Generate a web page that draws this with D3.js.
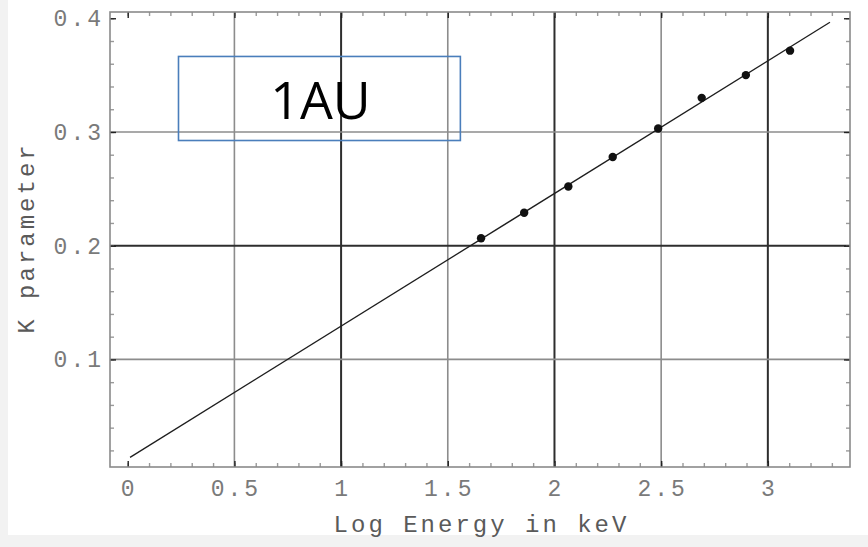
<!DOCTYPE html>
<html>
<head>
<meta charset="utf-8">
<script src="https://cdn.jsdelivr.net/npm/d3@7"></script>
<style>
  html, body { margin: 0; padding: 0; background: #f2f2f2; }
  svg { display: block; }
  .tickLabel { font-family: "Liberation Mono", monospace; font-size: 23px; fill: #7a7a7a; letter-spacing: 3px; }
  .axisTitle { font-family: "Liberation Mono", monospace; font-size: 24px; fill: #5a5a5a; letter-spacing: 3px; }
</style>
</head>
<body>
<div id="chart"></div>
<script>
// data
var energy = [1.656, 1.858, 2.065, 2.273, 2.486, 2.690, 2.897, 3.104];
var kParam = [0.2065, 0.229, 0.252, 0.278, 0.303, 0.330, 0.350, 0.3715];
var fitX = [0.011, 3.291];
var fitY = [0.0139, 0.3965];

var xTicks = [0, 0.5, 1, 1.5, 2, 2.5, 3];
var xTickLabels = ["0", "0.5", "1", "1.5", "2", "2.5", "3"];
var yTicks = [0.1, 0.2, 0.3, 0.4];
var yTickLabels = ["0.1", "0.2", "0.3", "0.4"];

var xGrid = [0.5, 1, 1.5, 2, 2.5, 3];
var yGrid = [0.1, 0.2, 0.3];

var boxLabel = "1AU";
var boxCorners = [[0.238, 0.3664], [1.559, 0.2925]];

var width = 868, height = 547;
var frame = {left: 110, right: 850, top: 12, bottom: 467};

var svg = d3.select("#chart")
	.append("svg")
	.attr("width", width)
	.attr("height", height);

svg.append("rect")
	.attr("x", 8).attr("y", 0)
	.attr("width", width - 8).attr("height", 535)
	.attr("fill", "#ffffff");

var x = d3.scaleLinear()
	.domain([-0.083, 3.385])
	.range([frame.left, frame.right]);

var y = d3.scaleLinear()
	.domain([0.0054, 0.4055])
	.range([frame.bottom, frame.top]);

//grid
svg.selectAll(".xgrid")
	.data(xGrid)
	.enter()
	.append("line")
		.attr("x1", function(d){ return x(d); })
		.attr("x2", function(d){ return x(d); })
		.attr("y1", frame.top)
		.attr("y2", frame.bottom)
		.attr("stroke", function(d){ return d % 1 === 0 ? "#2e2e2e" : "#8c8c8c"; })
		.attr("stroke-width", function(d){ return d % 1 === 0 ? 2 : 1.6; });

svg.selectAll(".ygrid")
	.data(yGrid)
	.enter()
	.append("line")
		.attr("x1", frame.left)
		.attr("x2", frame.right)
		.attr("y1", function(d){ return y(d); })
		.attr("y2", function(d){ return y(d); })
		.attr("stroke", function(d){ return Math.abs(d - 0.2) < 1e-9 ? "#2e2e2e" : "#8c8c8c"; })
		.attr("stroke-width", function(d){ return Math.abs(d - 0.2) < 1e-9 ? 2 : 1.6; });

//frame with inward ticks on all four sides
var xMinor = d3.range(0, 3.35, 0.1);
var yMinor = d3.range(0.02, 0.401, 0.02);

function styleAxis(g, color) {
	g.select(".domain").remove();
	g.selectAll(".tick line").attr("stroke", color).attr("stroke-width", 1.4);
	g.selectAll(".tick text").remove();
}

[["bottom", frame.bottom], ["top", frame.top]].forEach(function(p){
	var mk = p[0] === "bottom" ? d3.axisBottom : d3.axisTop;
	svg.append("g")
		.attr("transform", "translate(0," + p[1] + ")")
		.call(mk(x).tickValues(xMinor).tickSize(-4).tickSizeOuter(0))
		.call(styleAxis, "#9a9a9a");
	svg.append("g")
		.attr("transform", "translate(0," + p[1] + ")")
		.call(mk(x).tickValues(xTicks).tickSize(-6).tickSizeOuter(0))
		.call(styleAxis, "#222");
});

[["left", frame.left], ["right", frame.right]].forEach(function(p){
	var mk = p[0] === "left" ? d3.axisLeft : d3.axisRight;
	svg.append("g")
		.attr("transform", "translate(" + p[1] + ",0)")
		.call(mk(y).tickValues(yMinor).tickSize(-4).tickSizeOuter(0))
		.call(styleAxis, "#9a9a9a");
	svg.append("g")
		.attr("transform", "translate(" + p[1] + ",0)")
		.call(mk(y).tickValues(yTicks).tickSize(-6).tickSizeOuter(0))
		.call(styleAxis, "#222");
});

svg.append("rect")
	.attr("x", frame.left)
	.attr("y", frame.top)
	.attr("width", frame.right - frame.left)
	.attr("height", frame.bottom - frame.top)
	.attr("fill", "none")
	.attr("stroke", "#8a8a8a")
	.attr("stroke-width", 1.6);

//tick labels
svg.selectAll(".xlab")
	.data(xTicks)
	.enter()
	.append("text")
		.attr("class", "tickLabel")
		.attr("text-anchor", "middle")
		.attr("x", function(d){ return x(d) + 1.5; })
		.attr("y", 496)
		.text(function(d, i){ return xTickLabels[i]; });

svg.selectAll(".ylab")
	.data(yTicks)
	.enter()
	.append("text")
		.attr("class", "tickLabel")
		.attr("text-anchor", "end")
		.attr("x", 101 + 3)
		.attr("y", function(d){ return y(d) + 8; })
		.text(function(d, i){ return yTickLabels[i]; });

//axis titles
svg.append("text")
	.attr("class", "axisTitle")
	.attr("text-anchor", "middle")
	.attr("x", (frame.left + frame.right) / 2 + 1.5)
	.attr("y", 532)
	.text("Log Energy in keV");

svg.append("text")
	.attr("class", "axisTitle")
	.attr("text-anchor", "middle")
	.attr("transform", "translate(34," + ((frame.top + frame.bottom) / 2 - 1.5) + ") rotate(-90)")
	.text("K parameter");

//fit line
var line = d3.line()
	.x(function(d){ return x(d[0]); })
	.y(function(d){ return y(d[1]); });

svg.append("path")
	.datum(fitX.map(function(d, i){ return [d, fitY[i]]; }))
	.attr("d", line)
	.attr("fill", "none")
	.attr("stroke", "#1e1e1e")
	.attr("stroke-width", 1.3);

//measured points
svg.selectAll(".pt")
	.data(energy)
	.enter()
	.append("circle")
		.attr("cx", function(d){ return x(d); })
		.attr("cy", function(d, i){ return y(kParam[i]); })
		.attr("r", 4.2)
		.attr("fill", "#111");

//annotation box
svg.append("rect")
	.attr("x", x(boxCorners[0][0]))
	.attr("y", y(boxCorners[0][1]))
	.attr("width", x(boxCorners[1][0]) - x(boxCorners[0][0]))
	.attr("height", y(boxCorners[1][1]) - y(boxCorners[0][1]))
	.attr("fill", "none")
	.attr("stroke", "#4a7ebb")
	.attr("stroke-width", 1.6);

svg.append("text")
	.attr("x", (x(boxCorners[0][0]) + x(boxCorners[1][0])) / 2 + 1)
	.attr("y", 119)
	.attr("text-anchor", "middle")
	.style("font-family", "'Open Sans', sans-serif")
	.style("font-size", "52px")
	.attr("fill", "#000")
	.text(boxLabel);
</script>
</body>
</html>
